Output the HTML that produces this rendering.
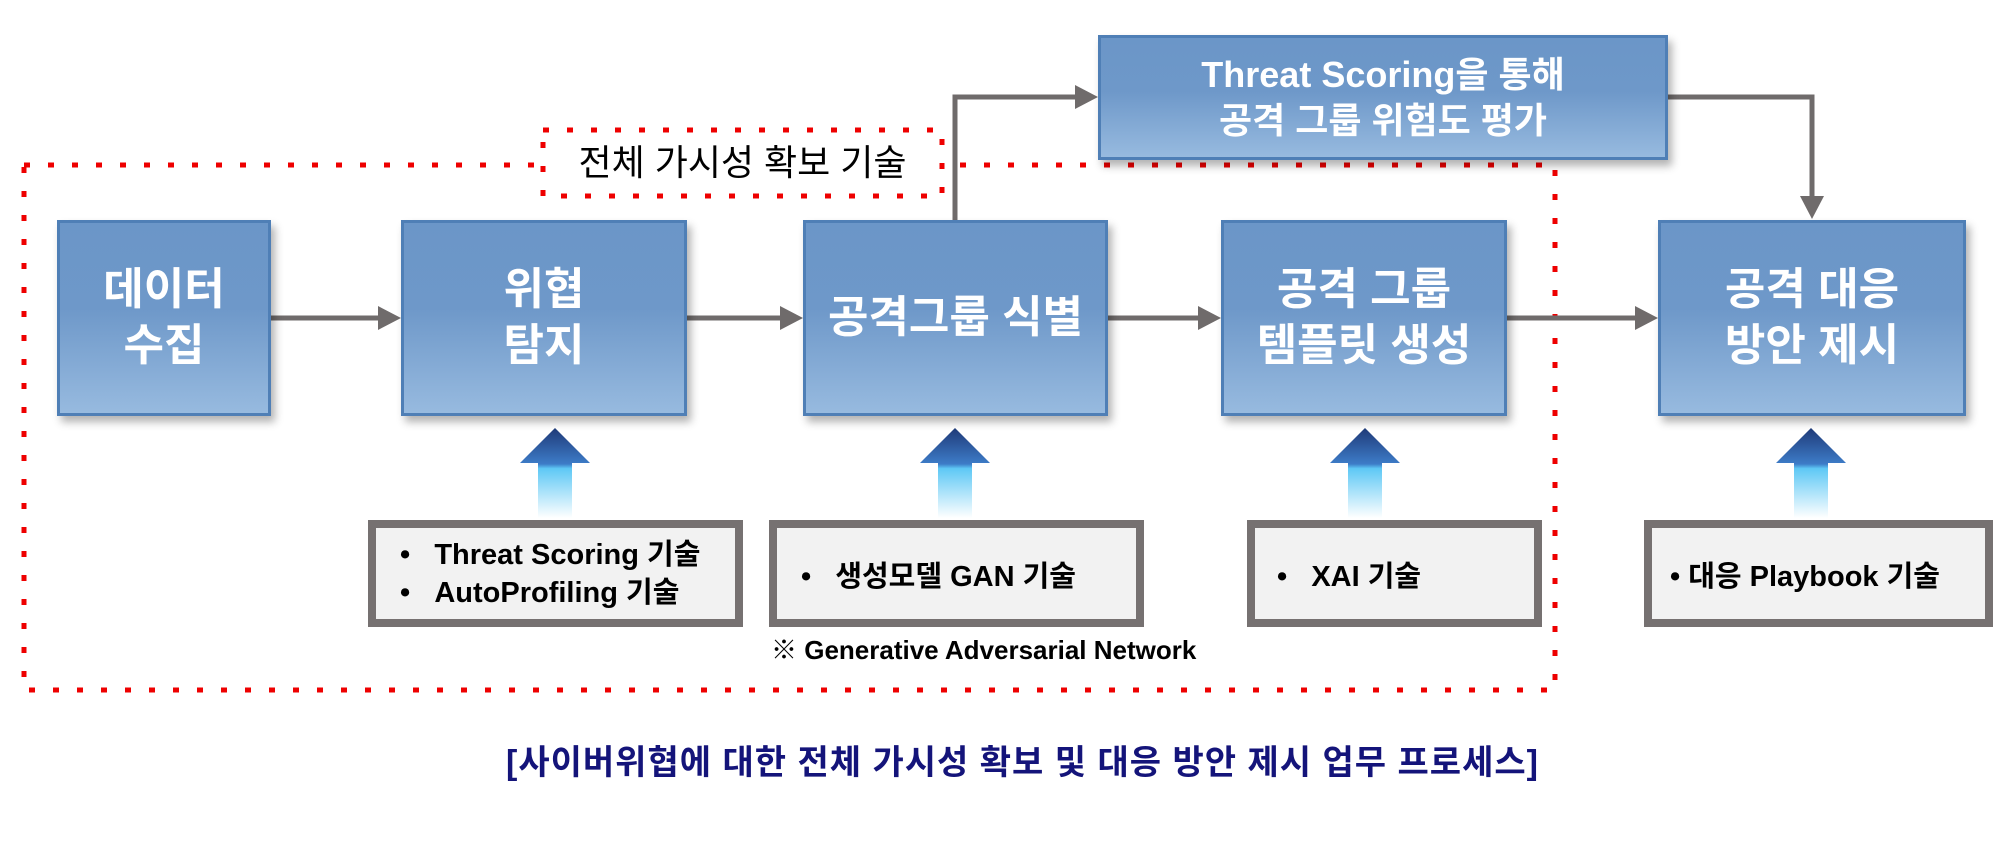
<!DOCTYPE html>
<html><head><meta charset="utf-8"><style>
body{margin:0;width:2014px;height:842px;background:#fff;position:relative;overflow:hidden;font-family:"Liberation Sans","Noto Sans CJK KR",sans-serif}
.b{position:absolute;box-sizing:border-box;border:3px solid #4f7fb6;background:linear-gradient(#6b96c8 0%,#6e98c9 45%,#97badf 100%);box-shadow:4px 6px 8px rgba(0,0,0,.3);color:#fff;font-weight:bold;display:flex;align-items:center;justify-content:center;text-align:center;font-size:44px;line-height:56px}
.g{position:absolute;box-sizing:border-box;border:8px solid #767171;background:#f2f2f2;font-weight:bold;font-size:29px;color:#000;display:flex;flex-direction:column;justify-content:center}
.t{position:absolute;white-space:nowrap}
</style></head><body>
<svg width="2014" height="842" style="position:absolute;left:0;top:0">
<defs><linearGradient id="ua" x1="0" y1="0" x2="0" y2="1"><stop offset="0" stop-color="#1f3a78"/><stop offset="0.4" stop-color="#3d7cc8"/><stop offset="0.45" stop-color="#5ec8f5"/><stop offset="1" stop-color="#ffffff"/></linearGradient></defs>
<rect x="24" y="165" width="1531" height="525" fill="none" stroke="#e00" stroke-width="5" stroke-dasharray="6,18"/>
<rect x="543" y="130" width="399" height="66" fill="#fff" stroke="#e00" stroke-width="5" stroke-dasharray="6,18"/>
<g stroke="#6f6b6b" stroke-width="5" fill="none">
<line x1="271" y1="318" x2="378" y2="318"/><line x1="687" y1="318" x2="780" y2="318"/><line x1="1108" y1="318" x2="1198" y2="318"/><line x1="1507" y1="318" x2="1635" y2="318"/>
<polyline points="955,220 955,97 1075,97"/><polyline points="1668,97 1812,97 1812,198"/>
</g>
<g fill="#6f6b6b">
<path d="M378,306 L401,318 L378,330z"/><path d="M780,306 L803,318 L780,330z"/><path d="M1198,306 L1221,318 L1198,330z"/><path d="M1635,306 L1658,318 L1635,330z"/><path d="M1075,85 L1098,97 L1075,109z"/><path d="M1800,196 L1812,219 L1824,196z"/>
</g>
<g fill="url(#ua)">
<path d="M555,428 L590,463 L572,463 L572,518 L538,518 L538,463 L520,463z"/>
<path d="M955,428 L990,463 L972,463 L972,518 L938,518 L938,463 L920,463z"/>
<path d="M1365,428 L1400,463 L1382,463 L1382,518 L1348,518 L1348,463 L1330,463z"/>
<path d="M1811,428 L1846,463 L1828,463 L1828,518 L1794,518 L1794,463 L1776,463z"/>
</g>
</svg>
<div class="t" style="left:543px;top:134px;width:399px;text-align:center;font-size:36px;color:#000">전체 가시성 확보 기술</div>
<div class="b" style="left:57px;top:220px;width:214px;height:196px">데이터<br>수집</div>
<div class="b" style="left:401px;top:220px;width:286px;height:196px">위협<br>탐지</div>
<div class="b" style="left:803px;top:220px;width:305px;height:196px">공격그룹 식별</div>
<div class="b" style="left:1221px;top:220px;width:286px;height:196px">공격 그룹<br>템플릿 생성</div>
<div class="b" style="left:1658px;top:220px;width:308px;height:196px">공격 대응<br>방안 제시</div>
<div class="b" style="left:1098px;top:35px;width:570px;height:125px;font-size:36px;line-height:46px">Threat Scoring을 통해<br>공격 그룹 위험도 평가</div>
<div class="g" style="left:368px;top:520px;width:375px;height:107px;padding-left:24px;line-height:38px"><div>•&nbsp;&nbsp;&nbsp;Threat Scoring 기술</div><div>•&nbsp;&nbsp;&nbsp;AutoProfiling 기술</div></div>
<div class="g" style="left:769px;top:520px;width:375px;height:107px;padding-left:24px"><div>•&nbsp;&nbsp;&nbsp;생성모델 GAN 기술</div></div>
<div class="g" style="left:1247px;top:520px;width:295px;height:107px;padding-left:22px"><div>•&nbsp;&nbsp;&nbsp;XAI 기술</div></div>
<div class="g" style="left:1644px;top:520px;width:349px;height:107px;padding-left:18px"><div>• 대응 Playbook 기술</div></div>
<div class="t" style="left:771px;top:630px;font-size:26px;font-weight:bold">※ Generative Adversarial Network</div>
<div class="t" style="left:473px;top:735px;width:1099px;text-align:center;font-size:34px;letter-spacing:1px;font-weight:bold;color:#14147a">[사이버위협에 대한 전체 가시성 확보 및 대응 방안 제시 업무 프로세스]</div>
</body></html>
